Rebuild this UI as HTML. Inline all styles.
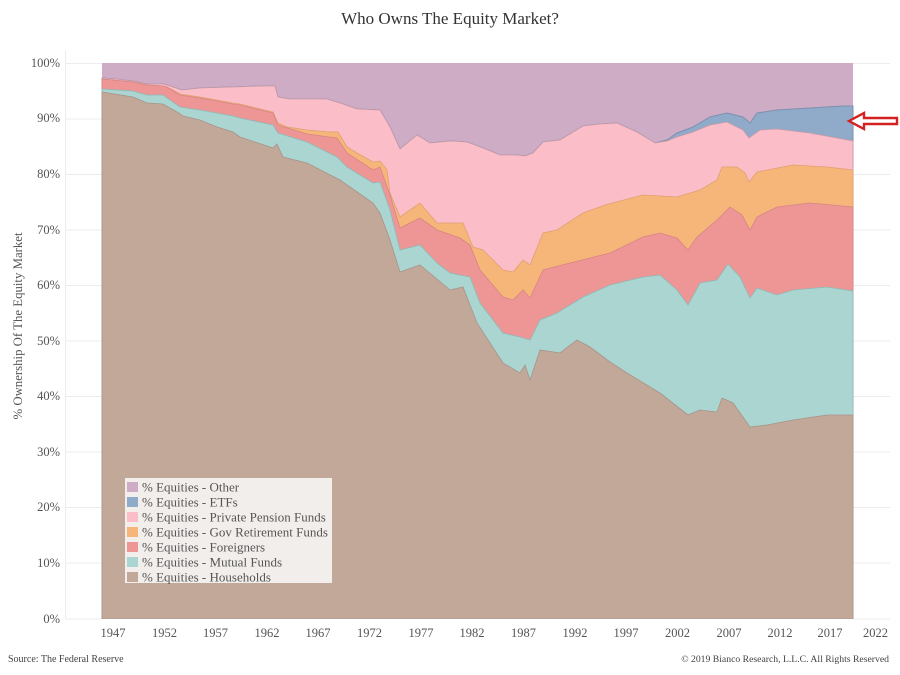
<!DOCTYPE html>
<html>
<head>
<meta charset="utf-8">
<style>
  html,body{margin:0;padding:0;background:#fff;}
  svg{display:block;}
  text{font-family:"Liberation Serif", serif;}
</style>
</head>
<body>
<svg width="900" height="675" viewBox="0 0 900 675" xmlns="http://www.w3.org/2000/svg">
  <rect x="0" y="0" width="900" height="675" fill="#ffffff"/>
  <!-- title -->
  <text x="450" y="24" text-anchor="middle" font-size="17" fill="#333">Who Owns The Equity Market?</text>

  <!-- gridlines -->
  <g stroke="#ececec" stroke-width="1">
    <line x1="66" y1="63.5" x2="890" y2="63.5"/>
    <line x1="66" y1="119" x2="890" y2="119"/>
    <line x1="66" y1="174.5" x2="890" y2="174.5"/>
    <line x1="66" y1="230" x2="890" y2="230"/>
    <line x1="66" y1="285.5" x2="890" y2="285.5"/>
    <line x1="66" y1="341" x2="890" y2="341"/>
    <line x1="66" y1="396.5" x2="890" y2="396.5"/>
    <line x1="66" y1="452" x2="890" y2="452"/>
    <line x1="66" y1="507.5" x2="890" y2="507.5"/>
    <line x1="66" y1="563" x2="890" y2="563"/>
    <line x1="66" y1="619" x2="890" y2="619"/>
    <line x1="65.5" y1="50" x2="65.5" y2="619"/>
  </g>

  <!-- y tick labels -->
  <g font-size="12.5" fill="#555" text-anchor="end">
    <text x="60" y="67">100%</text>
    <text x="60" y="122">90%</text>
    <text x="60" y="178">80%</text>
    <text x="60" y="234">70%</text>
    <text x="60" y="289">60%</text>
    <text x="60" y="345">50%</text>
    <text x="60" y="400">40%</text>
    <text x="60" y="456">30%</text>
    <text x="60" y="511">20%</text>
    <text x="60" y="567">10%</text>
    <text x="60" y="623">0%</text>
  </g>

  <!-- y axis title -->
  <text transform="translate(22,326) rotate(-90)" text-anchor="middle" font-size="12.8" fill="#555">% Ownership Of The Equity Market</text>

  <!-- x tick labels -->
  <g font-size="12.5" fill="#555" text-anchor="middle">
    <text x="113" y="637">1947</text>
    <text x="164.5" y="637">1952</text>
    <text x="215.5" y="637">1957</text>
    <text x="267" y="637">1962</text>
    <text x="318" y="637">1967</text>
    <text x="369.5" y="637">1972</text>
    <text x="421" y="637">1977</text>
    <text x="472" y="637">1982</text>
    <text x="523.5" y="637">1987</text>
    <text x="575" y="637">1992</text>
    <text x="626" y="637">1997</text>
    <text x="677.5" y="637">2002</text>
    <text x="729" y="637">2007</text>
    <text x="780" y="637">2012</text>
    <text x="830" y="637">2017</text>
    <text x="875.5" y="637">2022</text>
  </g>

  <!-- Other (full background of data area) -->
  <rect x="102" y="63" width="751" height="556" fill="#cfacc6"/>

  <!-- ETFs: top = other line -->
  <polygon fill="#8fabc9" stroke="#7d8fae" stroke-width="1" points="
  102,78 115,79 133,81 147,84 163,84 167,85 182,90 200,88 233,87 260,86 275,86 278,97 290,99 307,99 327,99 340,103 357,109 380,110 390,127 400,149 417,135 430,143 450,141 467,142 483,148 500,155 517,155 525,156 533,153 543,142 560,140 583,126 600,124 617,123 637,132 655,143 667,140 677,133 693,127 710,117 727,113 743,117 750,123 757,113 777,110 810,108 843,106 853,106
  853,619 102,619"/>

  <!-- Private pension: top = ETF bottom -->
  <polygon fill="#fbbdc7" stroke="#c89aa8" stroke-width="0.8" points="
  102,78 115,79 133,81 147,84 163,84 167,85 182,90 200,88 233,87 260,86 275,86 278,97 290,99 307,99 327,99 340,103 357,109 380,110 390,127 400,149 417,135 430,143 450,141 467,142 483,148 500,155 517,155 525,156 533,153 543,142 560,140 583,126 600,124 617,123 637,132 655,143 667,141 677,137 693,132 710,125 727,122 743,130 749,138 760,130 777,129 810,133 853,141
  853,619 102,619"/>

  <!-- Gov retirement: top = pink bottom -->
  <polygon fill="#f6b67a" stroke="#e0a070" stroke-width="0.8" points="
  102,79 133,82 147,85 163,86 167,87 180,94 200,97 233,103 240,104 260,109 273,112 278,123 287,127 307,130 330,132 338,132 347,147 357,153 373,162 380,161 387,170 390,193 400,217 420,203 437,223 463,223 473,247 483,250 503,270 513,272 523,260 530,265 543,233 557,230 583,213 605,205 643,195 677,197 700,190 717,180 722,167 737,167 745,173 749,182 757,172 793,165 827,167 853,170
  853,619 102,619"/>

  <!-- Foreigners: top = orange bottom -->
  <polygon fill="#ee9696" stroke="#d58585" stroke-width="0.8" points="
  102,79 133,82 147,85 163,86 167,87 180,95 200,98 233,104 240,105 273,113 278,125 307,134 337,138 347,153 373,170 380,167 390,195 400,228 420,218 437,230 460,238 470,245 480,270 503,297 513,300 523,290 530,298 543,270 570,263 610,253 643,237 660,233 677,238 688,250 697,237 717,220 730,207 742,215 750,230 757,217 777,207 810,203 853,207
  853,619 102,619"/>

  <!-- Mutual funds: top = salmon bottom -->
  <polygon fill="#aad5d1" stroke="#8fb8b5" stroke-width="0.8" points="
  102,89 133,91 147,95 163,95 180,107 200,110 233,116 240,118 273,125 278,133 307,142 337,157 347,167 373,183 380,182 390,210 400,250 420,245 437,263 450,273 470,277 480,303 503,333 520,337 530,340 540,320 557,313 583,297 610,285 643,277 660,275 677,290 688,305 700,283 717,280 728,264 740,277 750,298 757,288 777,295 793,290 827,287 853,291
  853,619 102,619"/>

  <!-- Households: top = teal bottom -->
  <polygon fill="#c2a899" stroke="#a8938a" stroke-width="0.8" points="
  102,92 133,97 147,103 163,104 177,112 183,116 200,120 217,127 233,132 240,137 273,148 277,144 283,157 307,163 340,180 373,203 380,213 390,240 400,272 420,265 450,290 463,287 477,323 503,363 520,373 525,365 530,380 540,350 560,353 577,340 590,347 610,362 627,373 660,393 688,415 700,410 717,412 722,398 733,403 750,427 767,425 793,420 827,415 853,415
  853,619 102,619"/>

  <!-- clean bottom edge -->
  <rect x="101" y="619" width="753" height="2" fill="#ffffff"/>

  <!-- legend -->
  <rect x="125" y="478" width="207" height="105" fill="#f2eeeb"/>
  <g>
    <rect x="127" y="482" width="11" height="10" fill="#cfacc6"/>
    <rect x="127" y="497" width="11" height="10" fill="#8fabc9"/>
    <rect x="127" y="512" width="11" height="10" fill="#fbbdc7"/>
    <rect x="127" y="527" width="11" height="10" fill="#f6b67a"/>
    <rect x="127" y="542" width="11" height="10" fill="#ee9696"/>
    <rect x="127" y="557" width="11" height="10" fill="#aad5d1"/>
    <rect x="127" y="572" width="11" height="10" fill="#c2a899"/>
  </g>
  <g font-size="13" fill="#555">
    <text x="142" y="491.5">% Equities - Other</text>
    <text x="142" y="506.5">% Equities - ETFs</text>
    <text x="142" y="521.5">% Equities - Private Pension Funds</text>
    <text x="142" y="536.5">% Equities - Gov Retirement Funds</text>
    <text x="142" y="551.5">% Equities - Foreigners</text>
    <text x="142" y="566.5">% Equities - Mutual Funds</text>
    <text x="142" y="581.5">% Equities - Households</text>
  </g>

  <!-- red arrow -->
  <polygon points="849,121 864,113 864,118 897,118 897,124 864,124 864,129" fill="#ffffff" stroke="#d42020" stroke-width="2.4" stroke-linejoin="miter"/>

  <!-- footer -->
  <text x="8" y="662" font-size="10" fill="#444">Source: The Federal Reserve</text>
  <text x="889" y="662" font-size="9.7" fill="#444" text-anchor="end">© 2019 Bianco Research, L.L.C. All Rights Reserved</text>
</svg>
</body>
</html>
